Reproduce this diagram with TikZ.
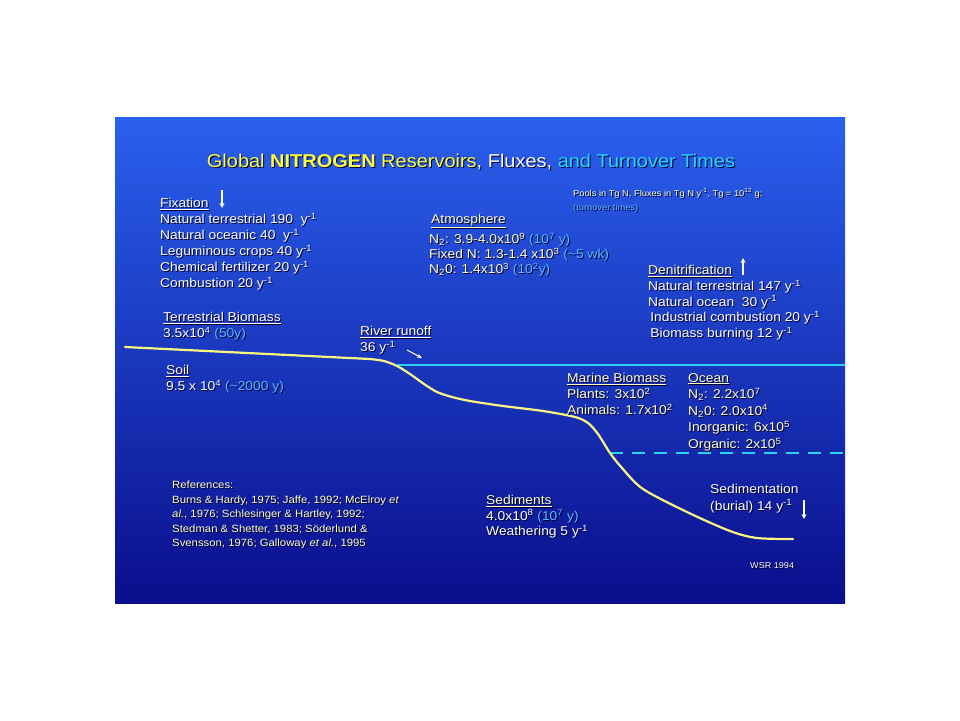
\documentclass[tikz,border=0pt]{standalone}
\usepackage{fontspec}
\setmainfont[FakeStretch=1.08]{Liberation Sans}
\usetikzlibrary{arrows.meta}

\definecolor{panelTop}{RGB}{42,96,238}
\definecolor{panelMid}{RGB}{24,50,198}
\definecolor{panelBot}{RGB}{10,14,140}
\definecolor{tyellow}{RGB}{255,255,60}
\definecolor{tcyan}{RGB}{40,215,255}
\definecolor{paren}{RGB}{90,185,255}
\definecolor{pale}{RGB}{255,255,200}
\definecolor{sealine}{RGB}{40,210,240}
\definecolor{shore}{RGB}{250,245,130}
\definecolor{shadow}{RGB}{0,0,50}

% text with a dark drop shadow
\newcommand\keeptext[2]{#2}
\newcommand\sh[1]{\makebox[0pt][l]{\kern1pt\raisebox{-1pt}{\color{shadow}\let\textcolor\keeptext #1}}#1}
\newcommand\pc[1]{\textcolor{paren}{#1}}
\newcommand\yr{y\textsuperscript{-1}}

\tikzset{
  txt/.style={inner sep=0pt, anchor=north west, align=left, text=white,
    font=\fontsize{12.8}{16.1}\selectfont},
  paletxt/.style={txt, text=pale},
  smalltxt/.style={txt, text=pale, font=\fontsize{10.5}{14.4}\selectfont},
  flux/.style={white, line width=1.4pt, -{Stealth[length=5pt,width=5pt]}}
}

\begin{document}
\begin{tikzpicture}[x=1pt,y=-1pt]
  \useasboundingbox (0,0) rectangle (960,720);
  \fill[white] (0,0) rectangle (960,720);

  % panel
  \shade[top color=panelTop, middle color=panelMid, bottom color=panelBot]
    (115,117) rectangle (845,603);

  % sea surface, deep water, sea floor
  \draw[sealine, line width=2pt] (397,365) -- (845,365);
  \draw[sealine, line width=2pt, dash pattern=on 13pt off 9pt] (610,453) -- (845,453);
  \draw[shore, line width=2.2pt, line cap=round] (125,347) -- plot[smooth, tension=.5] coordinates
    {(370,359) (384,361) (397,366) (410,374) (424,384) (437,392) (452,397)
     (470,401) (503,406) (543,411) (575,417) (588,423) (598,434) (610,453)
     (622,468) (643,489) (687,512) (730,531) (757,538) (793,539)};

  \node[txt, anchor=center, font=\fontsize{18.5}{22}\selectfont] (title) at (471,162)
    {\sh{\textcolor{tyellow}{Global \textbf{NITROGEN} Reservoirs}, Fluxes, \textcolor{tcyan}{and Turnover Times}}};

  \node[txt, font=\fontsize{8.6}{14}\selectfont, text=pale] (units) at (573,188)
    {\sh{Pools in Tg N, Fluxes in Tg N \yr, Tg = 10\textsuperscript{12} g;}\\
     \sh{\pc{(turnover times)}}};

  % fixation
  \node[txt] (fix) at (160,198)
    {\sh{\underline{Fixation}}\\
     \sh{Natural terrestrial 190\ \ \yr}\\
     \sh{Natural oceanic 40\ \ \yr}\\
     \sh{Leguminous crops 40 \yr}\\
     \sh{Chemical fertilizer 20 \yr}\\
     \sh{Combustion 20 \yr}};
  \coordinate (fixdown) at (222,190);
  \draw[flux] (fixdown) -- ++(0,18);

  % atmosphere
  \node[paletxt] (atmhead) at (431,214) {\sh{\underline{Atmosphere}}};
  \node[paletxt, font=\fontsize{12.8}{14.8}\selectfont] (atm) at (429,233)
    {\sh{N\textsubscript{2}: 3.9-4.0x10\textsuperscript{9} \pc{(10\textsuperscript{7} y)}}\\
     \sh{Fixed N: 1.3-1.4 x10\textsuperscript{3} \pc{(\textasciitilde5 wk)}}\\
     \sh{N\textsubscript{2}0: 1.4x10\textsuperscript{3} \pc{(10\textsuperscript{2}y)}}};

  % denitrification
  \node[paletxt] (denhead) at (648,265) {\sh{\underline{Denitrification}}};
  \coordinate (denup) at (743,275);
  \draw[flux] (denup) -- ++(0,-17);
  \node[txt, font=\fontsize{12.8}{15.6}\selectfont] (den) at (648,280)
    {\sh{Natural terrestrial 147 \yr}\\
     \sh{Natural ocean\ \ 30 \yr}\\
     \sh{\,Industrial combustion 20 \yr}\\
     \sh{\,Biomass burning 12 \yr}};

  % land
  \node[txt] (terr) at (163,312)
    {\sh{\underline{Terrestrial Biomass}}\\
     \sh{3.5x10\textsuperscript{4} \pc{(50y)}}};
  \node[txt] (river) at (360,326)
    {\sh{\underline{River runoff}}\\
     \sh{36 \yr}};
  \coordinate (runoff) at (407,350);
  \draw[white, line width=1pt, -{Stealth[length=5pt,width=4pt]}] (runoff) -- ++(15,8);
  \node[txt] (soil) at (166,365)
    {\sh{\underline{Soil}}\\
     \sh{9.5 x 10\textsuperscript{4} \pc{(\textasciitilde2000 y)}}};

  % ocean
  \node[paletxt] (marine) at (567,373)
    {\sh{\underline{Marine Biomass}}\\
     \sh{Plants: 3x10\textsuperscript{2}}\\
     \sh{Animals: 1.7x10\textsuperscript{2}}};
  \node[paletxt, font=\fontsize{12.8}{16.6}\selectfont] (ocean) at (688,373)
    {\sh{\underline{Ocean}}\\
     \sh{N\textsubscript{2}: 2.2x10\textsuperscript{7}}\\
     \sh{N\textsubscript{2}0: 2.0x10\textsuperscript{4}}\\
     \sh{Inorganic: 6x10\textsuperscript{5}}\\
     \sh{Organic: 2x10\textsuperscript{5}}};

  % sediments
  \node[txt, font=\fontsize{12.8}{15.6}\selectfont] (sed) at (486,495)
    {\sh{\textcolor{pale}{\underline{Sediments}}}\\
     \sh{4.0x10\textsuperscript{8} \pc{(10\textsuperscript{7} y)}}\\
     \sh{Weathering 5 \yr}};
  \node[txt, font=\fontsize{12.8}{16.8}\selectfont] (burial) at (710,484)
    {\sh{Sedimentation}\\
     \sh{(burial) 14 \yr}};
  \coordinate (burdown) at (804,500);
  \draw[flux] (burdown) -- ++(0,19);

  % references
  \node[smalltxt] (refs) at (172,481)
    {\sh{References:}\\
     \sh{Burns \& Hardy, 1975; Jaffe, 1992; McElroy \textit{et}}\\
     \sh{\textit{al.}, 1976; Schlesinger \& Hartley, 1992;}\\
     \sh{Stedman \& Shetter, 1983; Söderlund \&}\\
     \sh{Svensson, 1976; Galloway \textit{et al.}, 1995}};

  \node[txt, font=\fontsize{8.4}{10}\selectfont] (wsr) at (750,562) {\sh{WSR 1994}};
\end{tikzpicture}
\end{document}
